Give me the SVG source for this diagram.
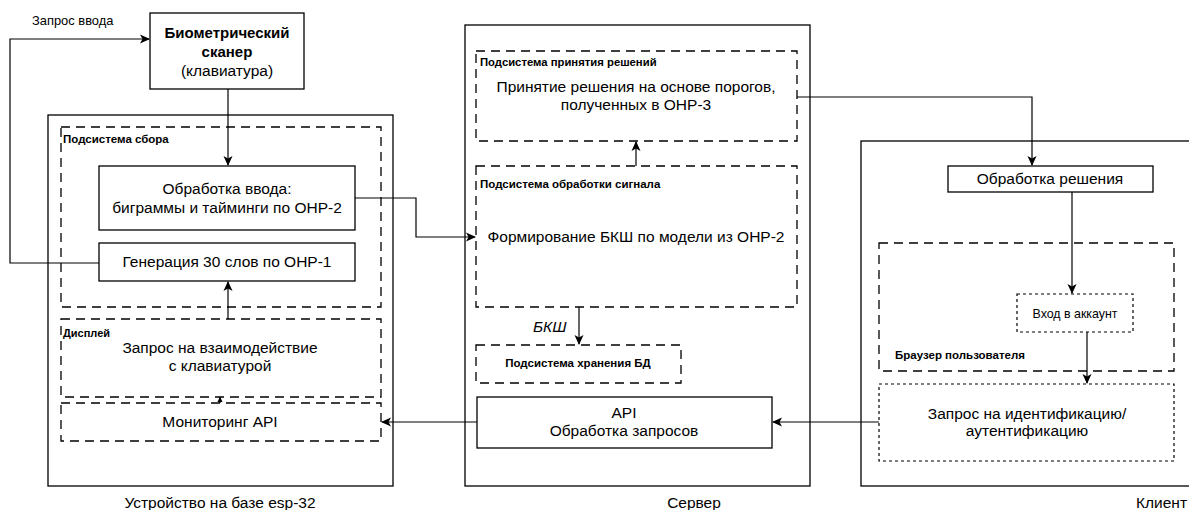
<svg xmlns="http://www.w3.org/2000/svg" width="1189" height="510" viewBox="0 0 1189 510">
<defs>
<marker id="arr" viewBox="0 0 10 10" refX="9" refY="5" markerWidth="10" markerHeight="10" markerUnits="userSpaceOnUse" orient="auto">
<path d="M0,0.5 L10,5 L0,9.5 L2.5,5 Z" fill="#000"/>
</marker>
<marker id="arrs" viewBox="0 0 10 10" refX="9" refY="5" markerWidth="6" markerHeight="6" markerUnits="userSpaceOnUse" orient="auto">
<path d="M0,0.5 L10,5 L0,9.5 Z" fill="#000"/>
</marker>
</defs>
<style>
text{font-family:"Liberation Sans",Arial,sans-serif;fill:#000}
.box{fill:#fff;stroke:#000;stroke-width:1.3}
.outer{fill:#fff;stroke:#000;stroke-width:1.3}
.dash{fill:none;stroke:#000;stroke-width:1.3;stroke-dasharray:9 6}
.dot{fill:none;stroke:#000;stroke-width:1.2;stroke-dasharray:3 3}
.m{font-size:15.5px;text-anchor:middle}
.lbl{font-size:11.5px;font-weight:bold}
.cap{font-size:15.5px;text-anchor:middle}
.edge{fill:none;stroke:#000;stroke-width:1.2}
</style>
<rect width="1189" height="510" fill="#fff"/>

<g id="device">
<rect class="outer" x="48" y="115" width="345" height="371"/>
<text class="cap" x="220" y="508">Устройство на базе esp-32</text>
</g>
<g id="server">
<rect class="outer" x="465" y="25" width="345" height="461"/>
<text class="cap" x="694" y="508">Сервер</text>
</g>
<g id="client">
<rect class="outer" x="861" y="141" width="340" height="345"/>
<text class="cap" x="1187" y="508" style="text-anchor:end">Клиент</text>
</g>

<g id="collect">
<rect class="dash" x="61" y="127" width="320" height="180"/>
<text class="lbl" x="63" y="143">Подсистема сбора</text>
</g>
<g id="input">
<rect class="box" x="99" y="166" width="256" height="64"/>
<text class="m" x="227" y="194">Обработка ввода:</text>
<text class="m" x="227" y="213">биграммы и тайминги по ОНР-2</text>
</g>
<g id="gen">
<rect class="box" x="99" y="243" width="256" height="38"/>
<text class="m" x="227" y="267">Генерация 30 слов по ОНР-1</text>
</g>
<g id="display">
<rect class="dash" x="61" y="319" width="320" height="78"/>
<text class="lbl" x="63" y="337" style="font-size:11px">Дисплей</text>
<text class="m" x="220" y="353">Запрос на взаимодействие</text>
<text class="m" x="220" y="371">с клавиатурой</text>
</g>
<g id="monitor">
<rect class="dash" x="61" y="403" width="320" height="38"/>
<text class="m" x="220" y="427">Мониторинг API</text>
</g>
<g id="scanner">
<rect class="box" x="150" y="13" width="154" height="76"/>
<text class="m" x="227" y="38" font-weight="bold" style="font-size:15px">Биометрический</text>
<text class="m" x="227" y="57" font-weight="bold" style="font-size:15px">сканер</text>
<text class="m" x="227" y="76">(клавиатура)</text>
</g>

<g id="decision">
<rect class="dash" x="476" y="51" width="321" height="90"/>
<text class="lbl" x="480" y="66" style="font-size:11.3px">Подсистема принятия решений</text>
<text class="m" x="636" y="92">Принятие решения на основе порогов,</text>
<text class="m" x="636" y="110">полученных в ОНР-3</text>
</g>
<g id="signal">
<rect class="dash" x="476" y="166" width="321" height="141"/>
<text class="lbl" x="480" y="188">Подсистема обработки сигнала</text>
<text class="m" x="636" y="242">Формирование БКШ по модели из ОНР-2</text>
</g>
<g id="db">
<rect class="dash" x="476" y="345" width="205" height="38"/>
<text class="lbl" x="578" y="367" text-anchor="middle">Подсистема хранения БД</text>
</g>
<g id="api">
<rect class="box" x="477" y="397" width="295" height="51"/>
<text class="m" x="624" y="418">API</text>
<text class="m" x="624" y="436">Обработка запросов</text>
</g>

<g id="decproc">
<rect class="box" x="948" y="166" width="205" height="26"/>
<text class="m" x="1050" y="184">Обработка решения</text>
</g>
<g id="browser">
<rect class="dash" x="879" y="243" width="295" height="128"/>
<text class="lbl" x="895" y="359">Браузер пользователя</text>
</g>
<g id="login">
<rect class="dot" x="1017" y="294" width="116" height="38"/>
<text x="1075" y="318" font-size="12.4" text-anchor="middle">Вход в аккаунт</text>
</g>
<g id="authreq">
<rect class="dot" x="879" y="384" width="295" height="77"/>
<text class="m" x="1027" y="419">Запрос на идентификацию/</text>
<text class="m" x="1027" y="436">аутентификацию</text>
</g>

<g id="connectors">
<polyline class="edge" points="99,263 10,263 10,39 149,39" marker-end="url(#arr)"/>
<text x="32" y="25" font-size="12.9">Запрос ввода</text>
<line class="edge" x1="228" y1="89" x2="228" y2="165" marker-end="url(#arr)"/>
<line class="edge" x1="228" y1="319" x2="228" y2="282" marker-end="url(#arr)"/>
<line class="edge" x1="220" y1="403" x2="220" y2="397" marker-end="url(#arrs)"/>
<polyline class="edge" points="355,198 416,198 416,237 475,237" marker-end="url(#arr)"/>
<line class="edge" x1="636" y1="166" x2="636" y2="142" marker-end="url(#arr)"/>
<line class="edge" x1="579" y1="307" x2="579" y2="344" marker-end="url(#arr)"/>
<text x="533" y="332" font-size="15.5" font-style="italic">БКШ</text>
<line class="edge" x1="477" y1="422" x2="382" y2="422" marker-end="url(#arr)"/>
<line class="edge" x1="879" y1="422" x2="773" y2="422" marker-end="url(#arr)"/>
<polyline class="edge" points="797,97 1032,97 1032,165" marker-end="url(#arr)"/>
<line class="edge" x1="1072" y1="192" x2="1072" y2="293" marker-end="url(#arr)"/>
<line class="edge" x1="1087" y1="332" x2="1087" y2="383" marker-end="url(#arr)"/>
</g>
</svg>
